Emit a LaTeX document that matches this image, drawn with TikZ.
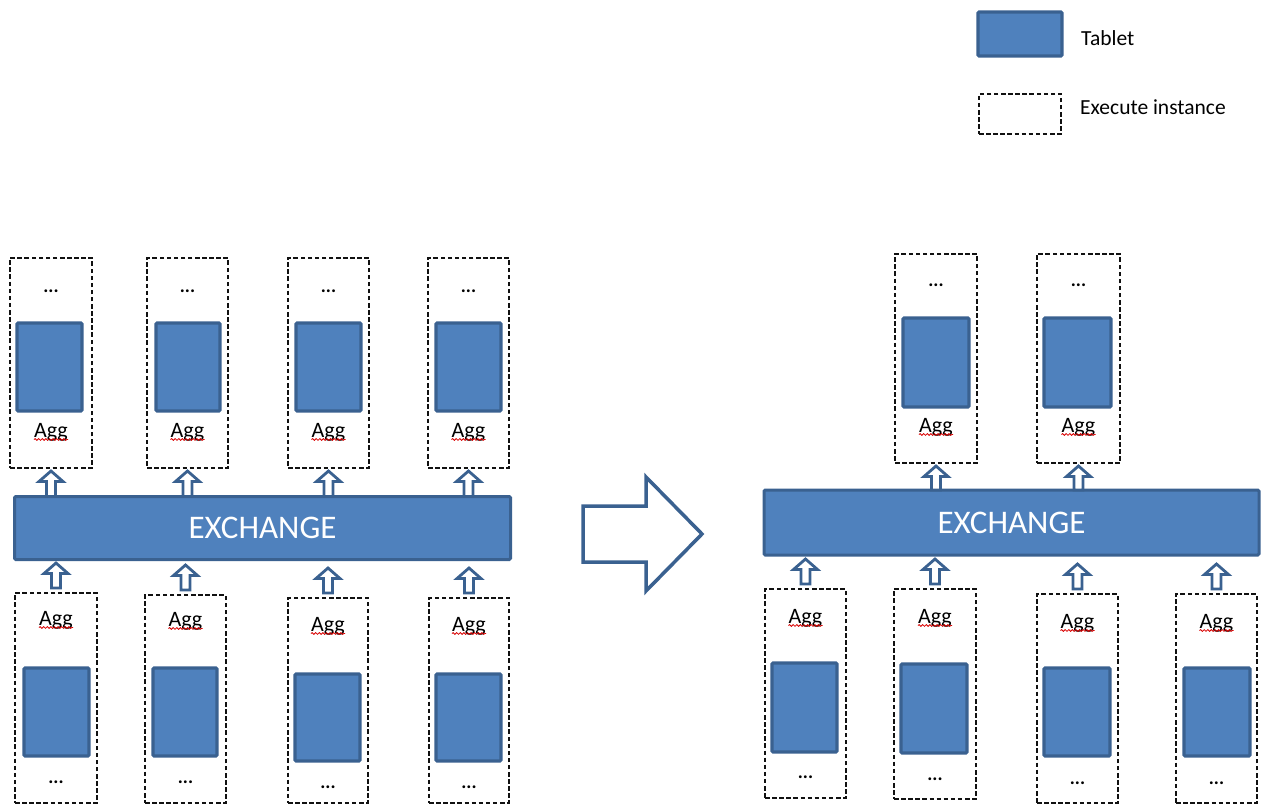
\documentclass[tikz,border=0pt]{standalone}
\usepackage{fontspec}
\setmainfont{Carlito}
\usetikzlibrary{calc,decorations.pathmorphing}

\definecolor{tabfill}{HTML}{4F81BD}
\definecolor{tabdraw}{HTML}{3A6190}
\definecolor{dashcol}{HTML}{111111}

\tikzset{
  inst/.style={draw=dashcol, line width=1.4pt, dash pattern=on 4.5pt off 2.6pt,
    fill=none, inner sep=0pt, outer sep=0pt},
  tablet/.style={draw=tabdraw, fill=tabfill, line width=3.2pt,
    rounded corners=1.2pt, inner sep=0pt, outer sep=0pt},
  exch/.style={draw=tabdraw, fill=tabfill, line width=3pt,
    rounded corners=1.2pt, inner sep=0pt, outer sep=0pt,
    text=white, font=\fontsize{33}{36}\selectfont},
  aggtxt/.style={anchor=base, inner sep=0pt, font=\fontsize{22}{24}\selectfont},
  dotstxt/.style={anchor=base, inner sep=0pt, font=\bfseries\fontsize{19}{22}\selectfont},
  legtxt/.style={anchor=base west, inner sep=0pt, font=\fontsize{21.5}{24}\selectfont},
  squig/.style={draw=red!85!black, line width=0.8pt,
    decorate, decoration={snake, amplitude=0.9pt, segment length=3.6pt}},
  blockup/.style={draw=tabdraw, fill=white, line width=2.8pt, line join=miter,
    to path={let \p1=(\tikztostart), \p2=(\tikztotarget) in
      (\x1-4.5pt,\y1) -- (\x1-4.5pt,\y2-10.5pt) -- (\x1-12pt,\y2-10.5pt) -- (\x1,\y2)
      -- (\x1+12pt,\y2-10.5pt) -- (\x1+4.5pt,\y2-10.5pt) -- (\x1+4.5pt,\y1) -- cycle}},
  bigarrow/.style={draw=tabdraw, fill=white, line width=3.5pt, line join=miter}
}

% rectangle node from its outer corners
\newcommand\mkbox[6]{\node[#1, minimum width={#5-#3-2}, minimum height={#6-#4-2}]
  (#2) at ({(#3+#5)/2},{(#4+#6)/2}) {};}
% "Agg" label with its wavy underline
\newcommand\aggat[3]{\node[aggtxt] (#1) at (#2,#3) {Agg};
  \draw[squig] ($(#1.base west)+(0,2.5)$) -- ($(#1.base east)+(0,2.5)$);}

\begin{document}
\begin{tikzpicture}[x=1pt, y=-1pt]
\useasboundingbox (0,0) rectangle (1262,805);
\clip (0,0) rectangle (1262,805);

% ---------- legend ----------
\mkbox{tablet}{lgT}{977}{11}{1063}{57}
\mkbox{inst}{lgI}{978}{93}{1062}{135}
\node[legtxt] (lgTt) at (1081,46) {Tablet};
\node[legtxt] (lgIt) at (1080,115) {Execute instance};

% ---------- left: exchange ----------
\node[exch, minimum width=496, minimum height=63] (exL) at (262.5,528) {EXCHANGE};

% left, upper instances
\mkbox{inst}{ti1}{9}{257}{93}{469}
\mkbox{inst}{ti2}{146}{257}{229}{469}
\mkbox{inst}{ti3}{287}{257}{370}{469}
\mkbox{inst}{ti4}{427}{257}{510}{469}
\mkbox{tablet}{tt1}{16}{322}{83}{412}
\mkbox{tablet}{tt2}{155}{322}{221}{412}
\mkbox{tablet}{tt3}{295}{322}{362}{412}
\mkbox{tablet}{tt4}{435}{322}{502}{412}
\node[dotstxt] (td1) at (51,293) {...};
\node[dotstxt] (td2) at (187.5,293) {...};
\node[dotstxt] (td3) at (328.5,293) {...};
\node[dotstxt] (td4) at (468.5,293) {...};
\aggat{ta1}{51}{437}
\aggat{ta2}{187.5}{437}
\aggat{ta3}{328.5}{437}
\aggat{ta4}{468.5}{437}

% left, lower instances
\mkbox{inst}{bi1}{14}{592}{98}{804}
\mkbox{inst}{bi2}{144}{594}{227}{804}
\mkbox{inst}{bi3}{287}{597}{369}{804}
\mkbox{inst}{bi4}{428}{597}{510}{804}
\mkbox{tablet}{bt1}{23}{667}{90}{757}
\mkbox{tablet}{bt2}{152}{667}{218}{757}
\mkbox{tablet}{bt3}{294}{673}{361}{762}
\mkbox{tablet}{bt4}{435}{673}{502}{762}
\aggat{ba1}{56}{625}
\aggat{ba2}{185.5}{626}
\aggat{ba3}{328}{631}
\aggat{ba4}{469}{631}
\node[dotstxt] (bd1) at (56,783) {...};
\node[dotstxt] (bd2) at (185.5,783) {...};
\node[dotstxt] (bd3) at (328,788) {...};
\node[dotstxt] (bd4) at (469,788) {...};

% left arrows
\foreach \k in {1,...,4} {
  \draw[blockup] (exL.north -| ti\k.south) to ($(ti\k.south)+(0,3)$);
  \draw[blockup] ($(bi\k.north)+(0,-5)$) to ($(bi\k.north)+(0,-30)$);
}

% ---------- transition arrow ----------
\draw[bigarrow] (583,506) -- (646,506) -- (646,477) -- (702,534) -- (646,591)
  -- (646,562) -- (583,562) -- cycle;

% ---------- right: exchange ----------
\node[exch, minimum width=495, minimum height=65] (exR) at (1011.5,522.5) {EXCHANGE};

% right, upper instances
\mkbox{inst}{rti1}{894}{253}{978}{464}
\mkbox{inst}{rti2}{1036}{253}{1121}{464}
\mkbox{tablet}{rtt1}{902}{317}{970}{408}
\mkbox{tablet}{rtt2}{1043}{317}{1112}{408}
\node[dotstxt] (rtd1) at (936,287) {...};
\node[dotstxt] (rtd2) at (1078.5,287) {...};
\aggat{rta1}{936}{432}
\aggat{rta2}{1078.5}{432}

% right, lower instances
\mkbox{inst}{rbi1}{764}{588}{847}{799}
\mkbox{inst}{rbi2}{893}{588}{977}{800}
\mkbox{inst}{rbi3}{1036}{593}{1119}{804}
\mkbox{inst}{rbi4}{1175}{593}{1258}{804}
\mkbox{tablet}{rbt1}{771}{662}{838}{753}
\mkbox{tablet}{rbt2}{900}{663}{968}{754}
\mkbox{tablet}{rbt3}{1043}{667}{1111}{757}
\mkbox{tablet}{rbt4}{1183}{667}{1251}{757}
\aggat{rba1}{805.5}{623}
\aggat{rba2}{935}{623}
\aggat{rba3}{1077.5}{628}
\aggat{rba4}{1216.5}{628}
\node[dotstxt] (rbd1) at (805.5,778) {...};
\node[dotstxt] (rbd2) at (935,780) {...};
\node[dotstxt] (rbd3) at (1077.5,784) {...};
\node[dotstxt] (rbd4) at (1216.5,784) {...};

% right arrows
\foreach \k in {1,2} {
  \draw[blockup] (exR.north -| rti\k.south) to ($(rti\k.south)+(0,3)$);
}
\foreach \k in {1,...,4} {
  \draw[blockup] ($(rbi\k.north)+(0,-5)$) to ($(rbi\k.north)+(0,-30)$);
}
\end{tikzpicture}
\end{document}
